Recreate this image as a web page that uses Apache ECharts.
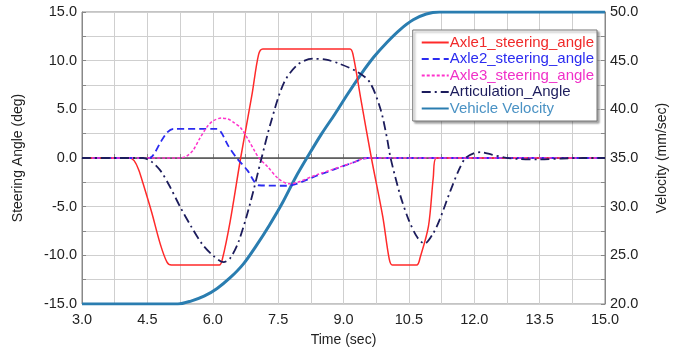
<!DOCTYPE html>
<html>
<head>
<meta charset="utf-8">
<script src="https://cdn.jsdelivr.net/npm/echarts@6/dist/echarts.min.js"></script>
<style>
  html, body { margin: 0; padding: 0; background: #fff; }
  #chart { width: 673px; height: 349px; }
</style>
</head>
<body>
<div id="chart"></div>
<script>
// values (time in sec)
const axle1T = [3, 4.1, 4.2, 4.3, 4.4, 4.6, 4.8, 4.95, 5.05, 6.15, 6.22, 6.4, 6.64, 6.9, 7.05, 7.15, 9.15, 9.22, 9.4, 9.64, 9.9, 10.05, 10.12, 10.68, 10.76, 10.95, 11.06, 11.13, 15]
const axle1V = [0, 0, -0.3, -1.2, -2.6, -5.6, -8.9, -10.7, -11.0, -11.0, -10.4, -6.5, 0, 6.5, 10.6, 11.2, 11.2, 10.6, 6.0, 0, -6.0, -10.4, -11.0, -11.0, -10.2, -7.0, -2.0, 0, 0]

const axle2T = [3, 4.55, 4.65, 4.8, 4.95, 5.1, 6.1, 6.2, 6.35, 6.55, 6.8, 6.95, 7.05, 7.7, 8.4, 9.2, 9.55, 15]
const axle2V = [0, 0, 0.4, 1.6, 2.6, 3.0, 3.0, 2.6, 1.3, 0, -1.3, -2.4, -2.8, -2.85, -1.8, -0.5, 0, 0]

const axle3T = [3, 5.25, 5.4, 5.55, 5.7, 5.87, 6.0, 6.2, 6.35, 6.5, 6.64, 6.8, 6.95, 7.06, 7.26, 7.5, 7.75, 8.4, 9.2, 9.55, 15]
const axle3V = [0, 0, 0.2, 0.8, 2.0, 3.2, 3.8, 4.1, 4.0, 3.6, 3.1, 2.0, 0.8, 0, -0.9, -2.1, -2.65, -1.7, -0.5, 0, 0]

const articT = [3, 4.4, 4.6, 4.8, 5.0, 5.25, 5.5, 5.75, 6.0, 6.25, 6.4, 6.6, 6.85, 7.12, 7.33, 7.63, 7.95, 8.3, 8.6, 8.9, 9.3, 9.6, 9.85, 10.0, 10.08, 10.3, 10.5, 10.7, 10.86, 11.05, 11.2, 11.45, 11.65, 11.8, 12.0, 12.15, 12.4, 12.7, 13.0, 13.5, 14.0, 14.5, 15]
const articV = [0, 0, -0.4, -1.3, -2.8, -5.0, -7.0, -8.8, -10.0, -10.7, -10.3, -8.5, -4.8, 0, 3.6, 7.7, 9.6, 10.2, 10.1, 9.7, 8.9, 7.8, 5.0, 2.0, 0, -3.8, -6.4, -8.2, -8.8, -7.8, -6.4, -3.4, -1.2, 0, 0.5, 0.6, 0.35, 0.05, -0.1, -0.15, -0.05, 0, 0]

const veloT = [3, 5.2, 5.5, 5.8, 6.1, 6.4, 6.7, 7.0, 7.3, 7.6, 7.9, 8.2, 8.5, 8.8, 9.1, 9.4, 9.7, 10.0, 10.3, 10.6, 10.9, 11.2, 15]
const veloV = [20, 20, 20.3, 20.8, 21.6, 22.7, 24.1, 26.0, 28.1, 30.4, 33.0, 35.3, 37.5, 39.5, 41.6, 43.6, 45.4, 46.9, 48.2, 49.2, 49.8, 50, 50]

const names = ['Axle1_steering_angle', 'Axle2_steering_angle', 'Axle3_steering_angle', 'Articulation_Angle', 'Vehicle Velocity']
const colors = ['#ff2a2a', '#2b2bf0', '#ff33cc', '#1c1c5c', '#2a7db0']
const textColors = ['#f02a2a', '#2b2bf0', '#f030c8', '#1c1c5c', '#4a92c4']

const pairs = (t, v) => t.map((x, i) => [x, v[i]])

const axisFont = { color: '#222', fontSize: 14, fontFamily: 'Liberation Sans' }

const chart = echarts.init(document.getElementById('chart'))

const lineSeries = (idx, t, v, type, width, yIndex) => ({
  name: names[idx],
  type: 'line',
  yAxisIndex: yIndex,
  data: pairs(t, v),
  symbol: 'none',
  smooth: 0.3,
  animation: false,
  lineStyle: { color: colors[idx], width, type },
  itemStyle: { color: colors[idx] },
})

const series = [
  lineSeries(4, veloT, veloV, 'solid', 3, 1),
  lineSeries(0, axle1T, axle1V, 'solid', 1.5, 0),
  lineSeries(1, axle2T, axle2V, [7, 4], 1.8, 0),
  lineSeries(2, axle3T, axle3V, [3, 2], 1.5, 0),
  lineSeries(3, articT, articV, [9, 4, 2, 4], 1.8, 0),
]

// zero line on the steering axis
series[1].markLine = {
  silent: true,
  symbol: 'none',
  label: { show: false },
  lineStyle: { color: '#555', width: 1.5, type: 'solid' },
  data: [{ yAxis: 0 }],
  z: 1,
}

chart.setOption({
  backgroundColor: '#fff',
  animation: false,
  grid: {
    left: 82, right: 68, top: 12, bottom: 45,
    outerBoundsMode: 'none',
    containLabel: false,
    show: true, borderColor: '#888', borderWidth: 1,
  },
  legend: {
    orient: 'vertical',
    right: 76, top: 30,
    backgroundColor: '#fff',
    borderColor: '#777',
    borderWidth: 1,
    shadowColor: 'rgba(0,0,0,0.35)',
    shadowBlur: 2,
    shadowOffsetX: 2,
    shadowOffsetY: 2,
    padding: [5, 3, 5, 8],
    itemGap: 1.5,
    itemWidth: 27,
    itemHeight: 10,
    itemStyle: { opacity: 0 },
    data: names.map((n, i) => ({ name: n, textStyle: { color: textColors[i] } })),
    textStyle: { fontSize: 15, fontFamily: 'Liberation Sans', padding: [0, 0, 0, -4] },
  },
  xAxis: {
    type: 'value',
    min: 3, max: 15, interval: 1.5,
    name: 'Time (sec)',
    nameLocation: 'middle',
    nameGap: 29,
    nameTextStyle: axisFont,
    axisLine: { lineStyle: { color: '#888' } },
    axisTick: { inside: true, length: 4, lineStyle: { color: '#888' } },
    minorTick: { show: true, splitNumber: 2, length: 4, lineStyle: { color: '#888' } },
    axisLabel: { ...axisFont, fontSize: 14.5, margin: 8, formatter: v => v.toFixed(1) },
    splitLine: { lineStyle: { color: '#cfcfcf' } },
    minorSplitLine: { show: true, lineStyle: { color: '#cfcfcf' } },
  },
  yAxis: [
    {
      type: 'value',
      min: -15, max: 15, interval: 5,
      name: 'Steering Angle (deg)',
      nameLocation: 'middle',
      nameGap: 57,
      nameTextStyle: axisFont,
      axisLine: { show: true, lineStyle: { color: '#888' } },
      axisTick: { show: true, inside: true, length: 4, lineStyle: { color: '#888' } },
      minorTick: { show: true, splitNumber: 2, length: 4, lineStyle: { color: '#888' } },
      axisLabel: { ...axisFont, fontSize: 14.5, margin: 5, formatter: v => v.toFixed(1) },
      splitLine: { lineStyle: { color: '#cfcfcf' } },
      minorSplitLine: { show: true, lineStyle: { color: '#cfcfcf' } },
    },
    {
      type: 'value',
      min: 20, max: 50, interval: 5,
      name: 'Velocity (mm/sec)',
      nameLocation: 'middle',
      nameGap: 50,
      nameRotate: 90,
      nameTextStyle: axisFont,
      axisLine: { show: true, lineStyle: { color: '#888' } },
      axisTick: { show: true, inside: true, length: 4, lineStyle: { color: '#888' } },
      minorTick: { show: true, splitNumber: 2, length: 4, lineStyle: { color: '#888' } },
      axisLabel: { ...axisFont, fontSize: 14.5, margin: 5, formatter: v => v.toFixed(1) },
      splitLine: { show: false },
    },
  ],
  series,
})
</script>
</body>
</html>
